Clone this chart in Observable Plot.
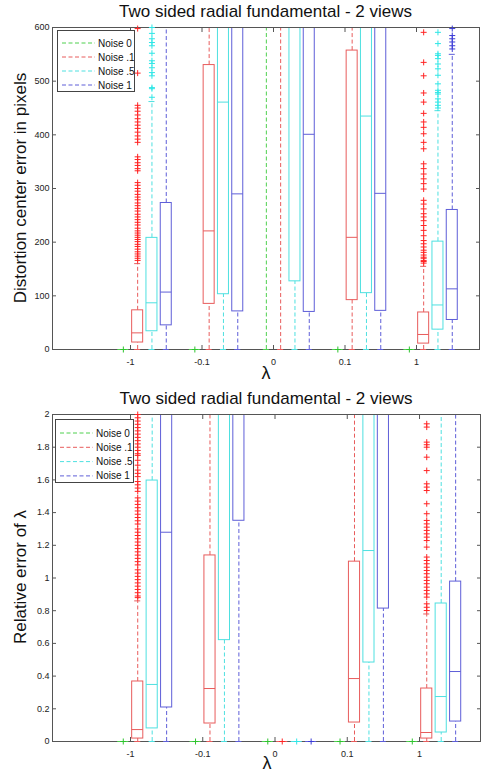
<!DOCTYPE html>
<html><head><meta charset="utf-8">
<script src="https://cdn.jsdelivr.net/npm/d3@7"></script>
<script src="https://cdn.jsdelivr.net/npm/@observablehq/plot@0.6"></script>
<style>
body{margin:0;background:#fff;font-family:"Liberation Sans",Arial,sans-serif;}
#wrap{position:relative;width:482px;height:774px;overflow:hidden;background:#fff;}
.abs{position:absolute;}
.title{font-size:17px;color:#111;text-align:center;white-space:nowrap;line-height:20px;}
.ylab{font-size:17px;color:#111;white-space:nowrap;line-height:20px;transform:translate(-50%,-50%) rotate(-90deg);}
.xlab{font-size:18px;color:#111;line-height:18px;transform:translate(-50%,-50%);}
.legend{background:#fff;border:1px solid #444;box-sizing:border-box;font-size:10px;color:#111;}
</style></head><body><div id="wrap"></div>
<script>
// ---------- shared categories ----------
const groupLabels = ["-1", "-0.1", "0", "0.1", "1"];
const groupPos = [1, 2, 3, 4, 5];
const noiseNames = ["Noise 0", "Noise .1", "Noise .5", "Noise 1"];
const noiseOffsets = [-0.1, 0.1, 0.3, 0.5];
const noiseColors = ["#4fd04f", "#e85c5c", "#4ee0e0", "#5e5ed8"];
const outlierColors = ["#2ec42e", "#ff2424", "#2ee6e6", "#3a3ad6"];

// ---------- top panel: distortion center error (pixels) ----------
const topTitle = "Two sided radial fundamental - 2 views";
const topYLabel = "Distortion center error in pixels";
const topYTicks = [0, 100, 200, 300, 400, 500, 600];
// rows: noise 0, .1, .5, 1 ; columns: lambda -1, -0.1, 0, 0.1, 1 (values above 600 are off the chart)
const topQ1  = [[0, 0, 700, 0, 0], [13, 85, 700, 92, 11], [34, 103, 127, 105, 37], [45, 71, 70, 72, 55]];
const topMed = [[0, 0, 800, 0, 0], [31, 221, 800, 209, 28], [87, 461, 700, 435, 83], [107, 290, 401, 291, 113]];
const topQ3  = [[0, 0, 900, 0, 0], [73, 530, 900, 557, 69], [208, 700, 800, 800, 201], [273, 700, 800, 800, 260]];
const topLo  = [[0, 0, 0, 0, 0], [0, 0, 0, 0, 0], [0, 0, 0, 0, 0], [0, 0, 0, 0, 0]];
const topHi  = [[0, 0, 900, 0, 0], [160, 900, 900, 900, 155], [462, 900, 900, 900, 445], [900, 900, 900, 900, 550]];
const topRedOutM1 = [598,515,455,450,444,437,430,424,418,412,405,398,392,386,359,354,348,343,337,333,311,306,300,295,289,284,279,273,268,263,258,252,247,242,237,232,226,221,217,213,209,205,201,196,192,187,182,178,174,170,166];
const topCyanOutM1 = [600,589,579,572,566,552,538,533,525,516,510,488,486,470];
const topRedOut1 = [591,535,510,478,461,440,424,414,402,386,374,346,337,327,318,309,299,278,271,262,253,247,240,231,222,212,203,197,191,185,181,176,172,170,166,164,161];
const topCyanOut1 = [591,570,551,548,542,532,523,511,495,483,479,476,467,461,455,450];
const topBlueOut1 = [598,585,579,573,566,560];
const topZeroOut = [0];

// ---------- bottom panel: relative error of lambda ----------
const botTitle = "Two sided radial fundamental - 2 views";
const botYLabel = "Relative error of λ";
const botYTicks = [0, 0.2, 0.4, 0.6, 0.8, 1, 1.2, 1.4, 1.6, 1.8, 2];
const botQ1  = [[0, 0, 0, 0, 0], [0.018, 0.11, 0, 0.116, 0.018], [0.08, 0.62, 0, 0.483, 0.055], [0.208, 1.35, 0, 0.813, 0.122]];
const botMed = [[0, 0, 0, 0, 0], [0.073, 0.324, 0, 0.385, 0.055], [0.349, 2.5, 0, 1.168, 0.275], [1.28, 2.5, 0, 2.5, 0.428]];
const botQ3  = [[0, 0, 0, 0, 0], [0.367, 1.138, 0, 1.10, 0.324], [1.596, 3, 0, 3, 0.844], [2.5, 3, 0, 3, 0.978]];
const botLo  = [[0, 0, 0, 0, 0], [0, 0, 0, 0, 0], [0, 0, 0, 0, 0], [0, 0, 0, 0, 0]];
const botHi  = [[0, 0, 0, 0, 0], [0.86, 3, 0, 3, 0.78], [3, 3, 0, 3, 3], [3, 3, 0, 3, 3]];
const botRedOutM1 = [2.0,1.98,1.96,1.94,1.92,1.90,1.88,1.86,1.84,1.82,1.80,1.78,1.76,1.75,1.72,1.69,1.66,1.64,1.62,1.59,1.57,1.55,1.53,1.49,1.47,1.45,1.43,1.41,1.39,1.37,1.35,1.33,1.30,1.28,1.26,1.24,1.22,1.20,1.18,1.16,1.14,1.12,1.10,1.08,1.05,1.03,1.01,0.99,0.97,0.95,0.93,0.91,0.89,0.88];
const botRedOut1 = [1.943,1.923,1.831,1.815,1.800,1.739,1.657,1.576,1.556,1.535,1.454,1.393,1.352,1.331,1.311,1.291,1.270,1.250,1.229,1.189,1.128,1.107,1.087,1.066,1.046,1.026,1.005,0.985,0.965,0.944,0.924,0.903,0.883,0.842,0.821,0.801];
const botZeroOut = [0];

// [noise index, group index, values]
const topOutlierSets = [
  [0, 0, topZeroOut], [0, 1, topZeroOut], [0, 3, topZeroOut], [0, 4, topZeroOut],
  [1, 0, topRedOutM1], [2, 0, topCyanOutM1],
  [1, 4, topRedOut1], [2, 4, topCyanOut1], [3, 4, topBlueOut1]
];
const botOutlierSets = [
  [0, 0, botZeroOut], [0, 1, botZeroOut], [0, 2, botZeroOut], [1, 2, botZeroOut],
  [2, 2, botZeroOut], [3, 2, botZeroOut], [0, 3, botZeroOut], [0, 4, botZeroOut],
  [1, 0, botRedOutM1], [1, 4, botRedOut1]
];

function buildBoxes(q1, med, q3, lo, hi) {
  const out = [];
  noiseNames.forEach((n, i) => groupPos.forEach((g, j) => {
    out.push({noise: n, x: g + noiseOffsets[i], q1: q1[i][j], med: med[i][j], q3: q3[i][j],
      lo: lo[i][j], hi: hi[i][j], c: noiseColors[i]});
  }));
  return out;
}
function buildOutliers(sets) {
  const out = [];
  sets.forEach(([i, j, vals]) => vals.forEach(v =>
    out.push({x: groupPos[j] + noiseOffsets[i], v, c: outlierColors[i]})));
  return out;
}

const plusSymbol = {
  draw(ctx, size) {
    const r = Math.sqrt(size / Math.PI);
    ctx.moveTo(-r, 0); ctx.lineTo(r, 0);
    ctx.moveTo(0, -r); ctx.lineTo(0, r);
  }
};

function panel(o) {
  const bx = buildBoxes(o.q1, o.med, o.q3, o.lo, o.hi);
  const outs = buildOutliers(o.outs);
  const ymax = o.yDomain[1];
  const hw = 0.077, cw = 0.042;
  const axisCol = "#555";
  return Plot.plot({
    width: 482, height: o.height,
    marginLeft: 52, marginRight: o.marginRight, marginTop: o.marginTop, marginBottom: o.marginBottom,
    x: {type: "linear", domain: o.xDomain, label: null},
    y: {type: "linear", domain: o.yDomain, label: null},
    color: {type: "identity"},
    style: {fontFamily: "'Liberation Sans', Arial, sans-serif", fontSize: "9px", color: "#222", background: "transparent", overflow: "visible"},
    marks: [
      Plot.ruleX(bx, {x: "x", y1: "q3", y2: "hi", stroke: "c", strokeDasharray: "4,2.5", clip: true}),
      Plot.ruleX(bx, {x: "x", y1: "lo", y2: "q1", stroke: "c", strokeDasharray: "4,2.5", clip: true}),
      Plot.rect(bx, {x1: d => d.x - hw, x2: d => d.x + hw, y1: "q1", y2: "q3", stroke: "c", fill: "none", clip: true}),
      Plot.frame({stroke: axisCol}),
      Plot.ruleY(bx, {filter: d => d.hi <= ymax, y: "hi", x1: d => d.x - cw, x2: d => d.x + cw, stroke: "c"}),
      Plot.ruleY(bx, {y: "lo", x1: d => d.x - cw, x2: d => d.x + cw, stroke: "c"}),
      Plot.ruleY(bx, {filter: d => d.med <= ymax, y: "med", x1: d => d.x - hw, x2: d => d.x + hw, stroke: "c"}),
      Plot.dot(outs, {x: "x", y: "v", symbol: plusSymbol, r: 3, stroke: "c", fill: "none", strokeWidth: 1}),
      Plot.axisX(groupPos, {tickSize: 4, dy: -4, stroke: axisCol, tickFormat: () => "", label: null}),
      Plot.axisX(groupPos, {anchor: "top", tickSize: 4, dy: 4, stroke: axisCol, tickFormat: () => "", label: null}),
      Plot.axisY(o.yTicks, {tickSize: 4, dx: 4, stroke: axisCol, tickFormat: () => "", label: null}),
      Plot.axisY(o.yTicks, {anchor: "right", tickSize: 4, dx: -4, stroke: axisCol, tickFormat: () => "", label: null}),
      Plot.axisX(groupPos, {tickSize: 0, tickPadding: 9, tickFormat: d => groupLabels[groupPos.indexOf(d)], label: null}),
      Plot.axisY(o.yTicks, {tickSize: 0, tickPadding: 3, tickFormat: d => String(d), label: null})
    ]
  });
}

const wrap = document.getElementById("wrap");

const topSvg = panel({q1: topQ1, med: topMed, q3: topQ3, lo: topLo, hi: topHi, outs: topOutlierSets,
  yDomain: [0, 600], yTicks: topYTicks, xDomain: [-0.0909, 5.881],
  height: 370, marginTop: 27, marginBottom: 21, marginRight: 3});
topSvg.style.position = "absolute"; topSvg.style.left = "0px"; topSvg.style.top = "0px";
wrap.appendChild(topSvg);

const botSvg = panel({q1: botQ1, med: botMed, q3: botQ3, lo: botLo, hi: botHi, outs: botOutlierSets,
  yDomain: [0, 2], yTicks: botYTicks, xDomain: [-0.0796, 5.844],
  height: 380, marginTop: 34, marginBottom: 19, marginRight: 2});
botSvg.style.position = "absolute"; botSvg.style.left = "0px"; botSvg.style.top = "380px";
wrap.appendChild(botSvg);

function addDiv(cls, text, css) {
  const d = document.createElement("div");
  d.className = "abs " + cls;
  d.textContent = text;
  Object.assign(d.style, css);
  wrap.appendChild(d);
  return d;
}
addDiv("title", topTitle, {left: "52px", width: "427px", top: "2px"});
addDiv("title", botTitle, {left: "52px", width: "428px", top: "389px"});
addDiv("ylab", topYLabel, {left: "21px", top: "188px"});
addDiv("ylab", botYLabel, {left: "21px", top: "577px"});
addDiv("xlab", "λ", {left: "266px", top: "373px"});
addDiv("xlab", "λ", {left: "267px", top: "763px"});

function addLegend(left, top, w, h, rowTop, rowStep) {
  const box = document.createElement("div");
  box.className = "abs legend";
  Object.assign(box.style, {left: left + "px", top: top + "px", width: w + "px", height: h + "px"});
  const ns = "http://www.w3.org/2000/svg";
  const svg = document.createElementNS(ns, "svg");
  svg.setAttribute("width", w - 2); svg.setAttribute("height", h - 2);
  svg.style.position = "absolute"; svg.style.left = "0px"; svg.style.top = "0px";
  noiseNames.forEach((n, i) => {
    const y = rowTop + i * rowStep;
    const ln = document.createElementNS(ns, "line");
    ln.setAttribute("x1", 4); ln.setAttribute("x2", 37);
    ln.setAttribute("y1", y); ln.setAttribute("y2", y);
    ln.setAttribute("stroke", noiseColors[i]); ln.setAttribute("stroke-dasharray", "4,2.5");
    svg.appendChild(ln);
    const t = document.createElementNS(ns, "text");
    t.setAttribute("x", 40); t.setAttribute("y", y); t.setAttribute("dy", "0.35em");
    t.setAttribute("font-size", "10"); t.setAttribute("fill", "#111");
    t.setAttribute("font-family", "'Liberation Sans', Arial, sans-serif");
    t.textContent = n;
    svg.appendChild(t);
  });
  box.appendChild(svg);
  wrap.appendChild(box);
}
addLegend(57, 30, 78, 62, 12, 14);
addLegend(55, 419, 79, 64, 13, 14.3);
</script></body></html>
